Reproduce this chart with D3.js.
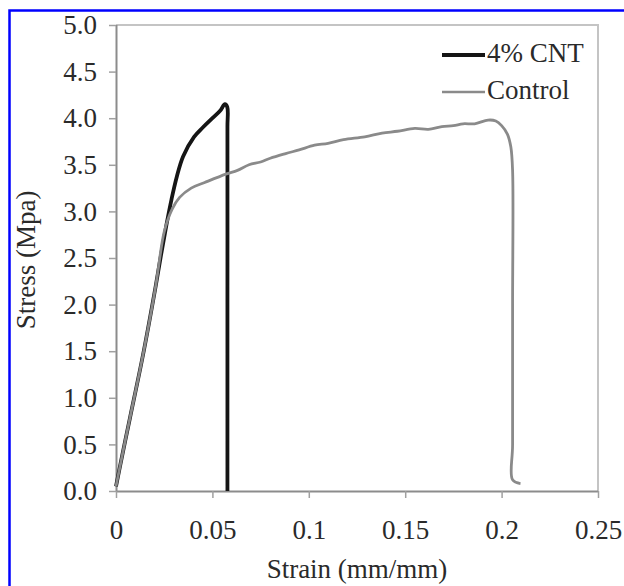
<!DOCTYPE html>
<html>
<head>
<meta charset="utf-8">
<script src="https://cdn.jsdelivr.net/npm/d3@7"></script>
<style>
	body{margin:0;background:#fff;}
	svg{display:block;}
	text{font-family:'Liberation Serif','Times New Roman',serif;fill:#2a2a2a;}
</style>
</head>
<body>
<script>
var seriesNames = ['4% CNT','Control'];
var cntStrain = [0,0.0036,0.0072,0.0141,0.0206,0.0235,0.0262,0.0288,0.0315,0.0348,0.0405,0.0450,0.0500,0.0540,0.0565,0.0577,0.0578,0.0578,0.0578];
var cntStress = [0.05,0.42,0.78,1.47,2.20,2.55,2.86,3.13,3.37,3.59,3.80,3.90,4.00,4.08,4.15,4.12,3.90,2.00,0.00];
var controlStrain = [0,0.0036,0.0072,0.0141,0.0206,0.0250,0.0290,0.0330,0.0390,0.0460,0.0570,0.0630,0.0690,0.0750,0.0800,0.0880,0.0950,0.1030,0.1100,0.1180,0.1290,0.1380,0.1460,0.1550,0.1620,0.1690,0.1750,0.1800,0.1860,0.1930,0.1970,0.2000,0.2030,0.2048,0.2057,0.2057,0.2057,0.2057,0.2098];
var controlStress = [0.05,0.42,0.78,1.47,2.20,2.78,3.02,3.15,3.25,3.31,3.40,3.44,3.50,3.53,3.57,3.62,3.66,3.71,3.73,3.77,3.80,3.84,3.86,3.89,3.88,3.91,3.92,3.94,3.94,3.98,3.97,3.92,3.83,3.69,3.44,2.00,0.50,0.12,0.08];
var xTicks = [0,0.05,0.1,0.15,0.2,0.25];
var yTicks = [0,0.5,1,1.5,2,2.5,3,3.5,4,4.5,5];

var width = 624;
var height = 586;
var plotLeft = 116, plotRight = 598, plotTop = 25, plotBottom = 491;

var canvas = d3.select('body')
				.append('svg')
				.attr('width',width)
				.attr('height',height);

// blue frame round the figure
canvas.append('path')
	.attr('d','M9.5,586 L9.5,10.5 L624,10.5')
	.attr('fill','none')
	.attr('stroke','#0000ff')
	.attr('stroke-width',2.5);

var scaleX = d3.scaleLinear()
				.domain([0,0.25])
				.range([plotLeft,plotRight]);
var scaleY = d3.scaleLinear()
				.domain([0,5])
				.range([plotBottom,plotTop]);

// light frame on top and right
canvas.append('path')
	.attr('d','M'+plotLeft+','+plotTop+' L'+plotRight+','+plotTop+' L'+plotRight+','+plotBottom)
	.attr('fill','none')
	.attr('stroke','#c4c4c4')
	.attr('stroke-width',2);

var yAxis = canvas.append('g')
				.attr('transform','translate('+plotLeft+',0)')
				.call(d3.axisLeft(scaleY).tickValues(yTicks).tickSize(7).tickPadding(12).tickFormat(d3.format('.1f')));
var xAxis = canvas.append('g')
				.attr('transform','translate(0,'+plotBottom+')')
				.call(d3.axisBottom(scaleX).tickValues(xTicks).tickSize(7).tickPadding(22).tickFormat((d)=>d===0 ? '0' : String(d)));
canvas.selectAll('.domain')
	.attr('stroke','#8c8c8c')
	.attr('stroke-width',2);
canvas.selectAll('.tick line')
	.attr('stroke','#a0a0a0')
	.attr('stroke-width',1.5);
canvas.selectAll('.tick text')
	.attr('font-size',27)
	.attr('font-family',null)
	.attr('fill',null);
// keep only the axis line, no outer end ticks
yAxis.select('.domain').attr('d','M0.5,'+plotTop+'V'+plotBottom);
xAxis.select('.domain').attr('d','M'+plotLeft+',0.5H'+plotRight);
yAxis.attr('font-family',null);
xAxis.attr('font-family',null);

var line = d3.line()
				.curve(d3.curveCatmullRom.alpha(0.5))
				.x((d)=>scaleX(d[0]))
				.y((d)=>scaleY(d[1]));

canvas.append('path')
	.datum(d3.zip(cntStrain,cntStress))
	.attr('d',line)
	.attr('fill','none')
	.attr('stroke','#151515')
	.attr('stroke-width',3.8)
	.attr('stroke-linejoin','round');
canvas.append('path')
	.datum(d3.zip(controlStrain,controlStress))
	.attr('d',line)
	.attr('fill','none')
	.attr('stroke','#8a8a8a')
	.attr('stroke-width',2.8)
	.attr('stroke-linejoin','round');

// legend
var legend = canvas.append('g');
var legendColors = ['#151515','#8a8a8a'];
var legendWidths = [4,2.6];
legend.selectAll('line')
	.data(seriesNames)
	.enter()
	.append('line')
	.attr('x1',442)
	.attr('x2',485)
	.attr('y1',(d,i)=>55+i*37)
	.attr('y2',(d,i)=>55+i*37)
	.attr('stroke',(d,i)=>legendColors[i])
	.attr('stroke-width',(d,i)=>legendWidths[i]);
legend.selectAll('text')
	.data(seriesNames)
	.enter()
	.append('text')
	.attr('x',487)
	.attr('y',(d,i)=>62+i*37)
	.attr('font-size',27)
	.text((d)=>d);

canvas.append('text')
	.attr('x',(plotLeft+plotRight)/2)
	.attr('y',578)
	.attr('text-anchor','middle')
	.attr('font-size',27)
	.text('Strain (mm/mm)');
canvas.append('text')
	.attr('transform','translate(35,'+((plotTop+plotBottom)/2+2)+') rotate(-90)')
	.attr('text-anchor','middle')
	.attr('font-size',27)
	.text('Stress (Mpa)');
</script>
</body>
</html>
